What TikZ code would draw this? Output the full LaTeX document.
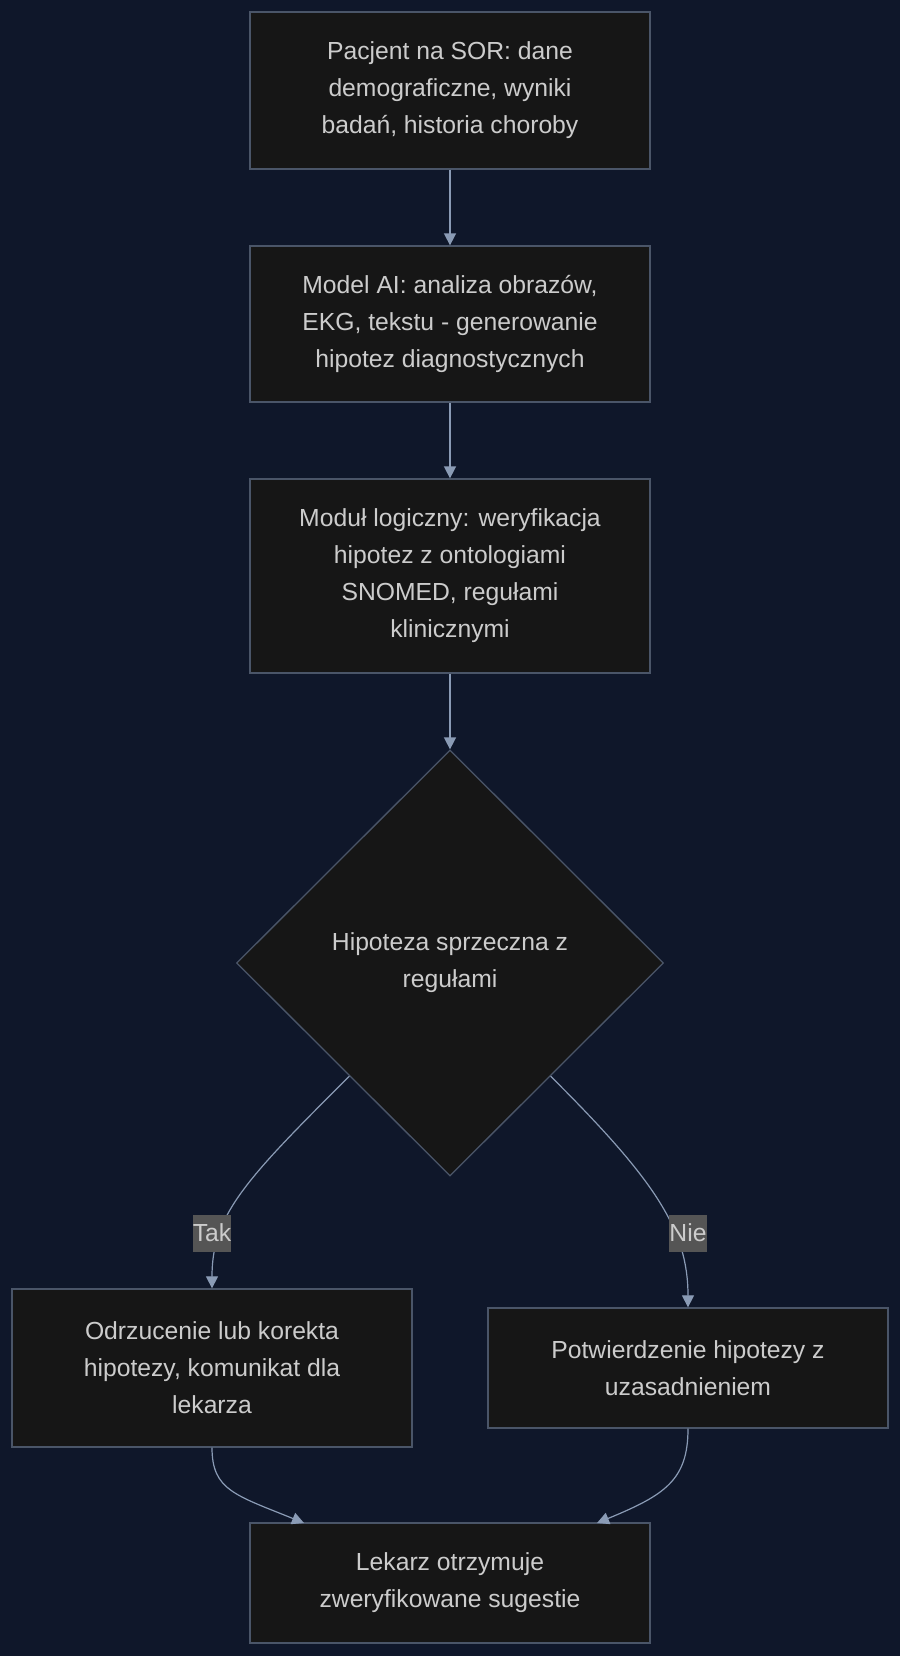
\documentclass[tikz,border=0pt]{standalone}
\usepackage{fontspec}
\setmainfont{Liberation Sans}
\usetikzlibrary{shapes.geometric,arrows.meta,calc}
\definecolor{bg}{HTML}{0F172A}
\definecolor{nodefill}{HTML}{161616}
\definecolor{nodeborder}{HTML}{4A5568}
\definecolor{txt}{HTML}{CCCCCC}
\definecolor{edge}{HTML}{8A9BB5}
\definecolor{lblbg}{HTML}{555555}
\tikzset{
  box/.style={draw=nodeborder, fill=nodefill, line width=1.3pt, text=txt, align=center,
    minimum width=400, inner sep=0pt, font=\fontsize{24.7}{37}\selectfont},
  decision/.style={diamond, draw=nodeborder, fill=nodefill, line width=1.3pt, text=txt, align=center,
    minimum width=427, minimum height=426, inner sep=0pt, font=\fontsize{24.7}{37}\selectfont},
  conn/.style={draw=edge, line width=1.6pt, -{Triangle[length=12pt,width=12pt]}},
  conncurve/.style={draw=edge, line width=1.2pt, -{Triangle[length=12pt,width=12pt]}},
  lbl/.style={fill=lblbg, text=txt, inner xsep=0pt, inner ysep=0pt, minimum height=37,
    font=\fontsize{24.7}{37}\selectfont}
}
\begin{document}
\begin{tikzpicture}[x=1pt,y=-1pt]
\fill[bg] (0,0) rectangle (900,1656);
\useasboundingbox (0,0) rectangle (900,1656);

\node[box, minimum height=157] (n1) at (450,90.5) {Pacjent na SOR: dane\\demograficzne, wyniki\\badań, historia choroby};
\node[box, minimum height=156] (n2) at (450,324) {Model AI: analiza obrazów,\\EKG, tekstu - generowanie\\hipotez diagnostycznych};
\node[box, minimum height=194] (n3) at (450,576) {Moduł logiczny: weryfikacja\\hipotez z ontologiami\\SNOMED, regułami\\klinicznymi};
\node[decision] (d) at (450,963) {Hipoteza sprzeczna z\\regułami};
\node[box, minimum height=158] (n4) at (212,1368) {Odrzucenie lub korekta\\hipotezy, komunikat dla\\lekarza};
\node[box, minimum height=120] (n5) at (688,1368) {Potwierdzenie hipotezy z\\uzasadnieniem};
\node[box, minimum height=120] (n6) at (450,1583) {Lekarz otrzymuje\\zweryfikowane sugestie};

\draw[conn] (n1.south) -- (n2.north);
\draw[conn] (n2.south) -- (n3.north);
\draw[conn] (n3.south) -- (d.north);

\coordinate (dl) at ($(d.west)!0.53!(d.south)$);
\coordinate (dr) at ($(d.east)!0.53!(d.south)$);
\draw[conncurve] (dl) .. controls (245,1180) and (212,1215) .. (n4.north);
\draw[conncurve] (dr) .. controls (655,1180) and (688,1230) .. (n5.north);
\node[lbl] (tak) at (212,1233) {Tak};
\node[lbl] (nie) at (688,1233) {Nie};

\coordinate (e1) at (304,1523);
\coordinate (e2) at (597,1523);
\draw[conncurve] (n4.south) .. controls (212,1490) and (235,1495) .. (e1);
\draw[conncurve] (n5.south) .. controls (688,1480) and (665,1495) .. (e2);
\end{tikzpicture}
\end{document}
